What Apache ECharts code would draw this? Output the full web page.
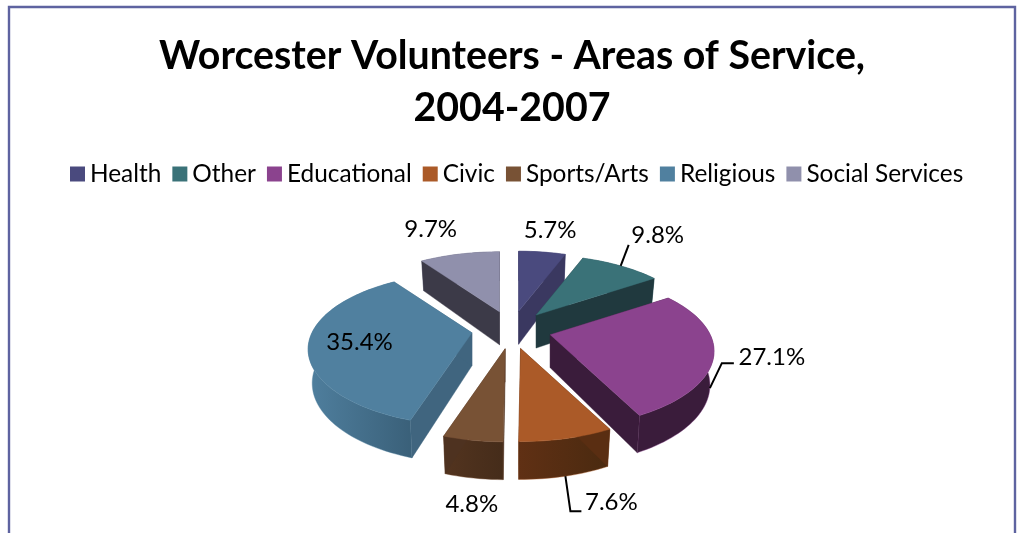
<!DOCTYPE html>
<html><head><meta charset="utf-8">
<style>html,body{margin:0;padding:0;background:#fff;overflow:hidden}#c{width:1017px;height:533px}</style>
<script src="https://cdn.jsdelivr.net/npm/echarts@6/dist/echarts.min.js"></script>
</head><body><div id="c"></div>
<script>
const titleText = "Worcester Volunteers - Areas of Service,\n2004-2007";
const categories = ["Health","Other","Educational","Civic","Sports/Arts","Religious","Social Services"];
const shares = [5.7,9.8,27.1,7.6,4.8,35.4,9.7];

// Styles and layout, in the order of categories
const topColors  = ["#4A4A7E","#3A7278","#8B438E","#AB5A28","#785235","#50809F","#9090AC"];
const faceColors = ["#3A3860","#20393E","#3A1C3B","#5A2E12","#4E3220","#40657F","#3C3A48"];
const wallLight  = ["#3A3860","#20393E","#3A1C3B","#603014","#53341F","#4F7F9E","#3C3A48"];
const wallDark   = ["#3A3860","#20393E","#3A1C3B","#4A2A10","#452C1A","#3A6079","#3C3A48"];
const paintOrder = [1,3,4,5,7,6,2];        // z of every slice: back to front
const labelAt    = [[8,-22],[37,-31],[62,-31],[46,26],[-1,64],[51,-2],[-29,-25]]; // from the slice's rim midpoint
const labelFromBase = [false,false,true,true,false,false,false];
const leaders = [null,[[8,-21]],[[12,-25],[24,-25]],[[5,35],[16,35]],null,null,null]; // relative to rim midpoint

const P = {cx:511.5, cy:330, R:160, ky:73, persp:0.215, ex:40, ey:19, depth:33, dPersp:0.13, baseShrink:0.975};

function project(vx,vy,r,a,base){
  const u=r*Math.sin(a), v=-r*Math.cos(a), s=1/(1-P.persp*v);
  let dx=P.R*u*s, dy=P.ky*v*s;
  if(base){ dx*=P.baseShrink; dy+=P.depth/(1-P.dPersp*v); }
  return [vx+dx, vy+dy];
}
const total = shares.reduce((a,b)=>a+b,0);
function sliceAngles(i){
  let s=0; for(let k=0;k<i;k++) s+=shares[k];
  return [s/total*2*Math.PI,(s+shares[i])/total*2*Math.PI];
}

function makeSeries(i){
  return {
    type:'custom', name:categories[i], coordinateSystem:'none', z:paintOrder[i]+2,
    itemStyle:{color:topColors[i]}, data:[[shares[i]]], silent:true, clip:false,
    renderItem(params,api){
      const [a0,a1]=sliceAngles(i), mid=(a0+a1)/2;
      const vx=P.cx+P.ex*Math.sin(mid), vy=P.cy-P.ey*Math.cos(mid);
      const n=Math.max(8,Math.round((a1-a0)/0.03));
      const topArc=[],baseArc=[];
      for(let k=0;k<=n;k++){
        const a=a0+(a1-a0)*k/n;
        topArc.push(project(vx,vy,1,a,false));
        baseArc.push(project(vx,vy,1,a,true));
      }
      const v0=[vx,vy], v0b=[vx,vy+P.depth];
      const poly=(pts,fill)=>({type:'polygon',shape:{points:pts},style:{fill,stroke:typeof fill==='string'?fill:topColors[i],lineWidth:0.4}});
      const grad=new echarts.graphic.LinearGradient(0,0,1,0,[{offset:0,color:wallLight[i]},{offset:1,color:wallDark[i]}]);
      const children=[
        poly(topArc.concat(baseArc.slice().reverse()),grad),
        poly([v0,topArc[0],baseArc[0],v0b],faceColors[i]),
        poly([v0,topArc[n],baseArc[n],v0b],faceColors[i]),
        poly([v0].concat(topArc),topColors[i])
      ];
      const rim=project(vx,vy,1,mid,labelFromBase[i]);
      if(leaders[i]){
        const pts=[rim].concat(leaders[i].map(o=>[rim[0]+o[0],rim[1]+o[1]]));
        children.push({type:'polyline',shape:{points:pts},style:{fill:null,stroke:'#000',lineWidth:2}});
      }
      children.push({type:'text',style:{
        text:api.value(0).toFixed(1)+'%',x:rim[0]+labelAt[i][0],y:rim[1]+labelAt[i][1],
        align:'center',verticalAlign:'middle',fill:'#000',font:'24px Lato'}});
      return {type:'group',children};
    }
  };
}

const chart=echarts.init(document.getElementById('c'),null,{renderer:'canvas'});
chart.setOption({
  animation:false, backgroundColor:'#fff',
  title:{text:titleText,left:507,top:25,textAlign:'center',
    textStyle:{fontFamily:'Lato',fontWeight:'bold',fontSize:39.3,lineHeight:52,color:'#000'}},
  legend:{data:categories,left:65,top:157,itemWidth:15,itemHeight:15,itemGap:11,icon:'rect',
    textStyle:{fontFamily:'Lato',fontSize:24.4,color:'#000'},selectedMode:false},
  tooltip:{show:false},
  graphic:[{type:'polyline',silent:true,shape:{points:[[9,540],[9,7],[1015,7],[1015,540]]},
    style:{fill:null,stroke:'#5E63A0',lineWidth:2.4}}],
  series:categories.map((c,i)=>makeSeries(i))
});
</script></body></html>
